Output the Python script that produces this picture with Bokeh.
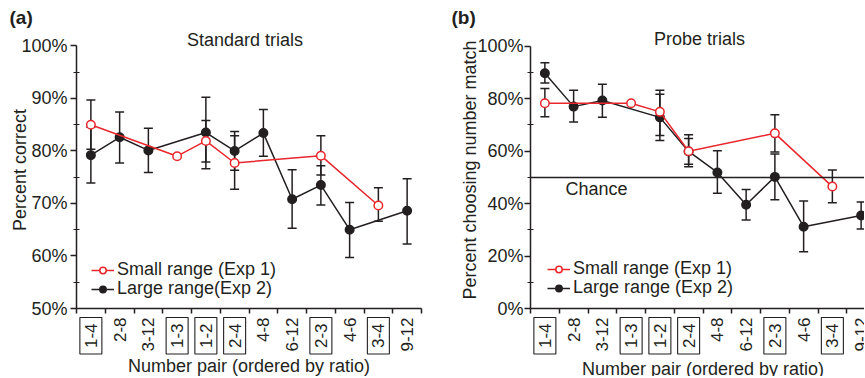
import math
from bokeh.plotting import figure
from bokeh.models import (ColumnDataSource, Whisker, TeeHead, Label, Span, Legend,
                          LegendItem, FixedTicker, PrintfTickFormatter, Range1d, Title)
from bokeh.core.properties import value
from bokeh.layouts import row, column
from bokeh.embed import file_html
from bokeh.resources import INLINE

# ---------------- data ----------------
pairs = ["1-4", "2-8", "3-12", "1-3", "1-2", "2-4", "4-8", "6-12", "2-3", "4-6", "3-4", "9-12"]
small_pairs = ["1-4", "1-3", "1-2", "2-4", "2-3", "3-4"]
large_pairs = ["1-4", "2-8", "3-12", "1-2", "2-4", "4-8", "6-12", "2-3", "4-6", "9-12"]

std_small = [85.0, 79.0, 81.9, 77.7, 79.1, 69.6]
std_small_lo = [80.3, None, 77.9, 72.7, 75.4, 66.6]
std_small_hi = [89.7, None, 85.8, 82.9, 82.9, 73.0]
std_large = [79.2, 82.6, 80.1, 83.5, 80.0, 83.4, 70.8, 73.5, 65.0, 68.6]
std_large_lo = [73.9, 77.7, 75.9, 76.6, 76.3, 79.0, 65.3, 69.7, 59.7, 62.3]
std_large_hi = [84.5, 87.4, 84.3, 90.2, 83.7, 87.9, 76.4, 77.2, 70.2, 74.7]

probe_small = [78.3, 78.3, 75.0, 60.0, 66.8, 46.5]
probe_small_lo = [73.1, None, 66.0, 55.0, 59.7, 40.3]
probe_small_hi = [83.9, None, 83.2, 66.3, 73.9, 52.8]
probe_large = [89.7, 77.0, 79.3, 72.9, 59.9, 51.9, 39.6, 50.2, 31.2, 35.5]
probe_large_lo = [86.0, 71.1, 72.9, 64.1, 54.1, 44.0, 33.8, 41.5, 21.6, 30.3]
probe_large_hi = [93.7, 83.2, 85.5, 81.7, 64.8, 60.2, 45.4, 58.9, 41.0, 40.6]
chance_level = 50

std_ticks = [50, 60, 70, 80, 90, 100]
std_minor = [55, 65, 75, 85, 95]
probe_ticks = [0, 20, 40, 60, 80, 100]
probe_minor = [10, 30, 50, 70, 90]

FONT = "Liberation Sans"
RED = "#e8262b"
BLACK = "#231f20"


def xpos(p):
    return pairs.index(p) + 0.5


def add_series(p, cats, vals, lo, hi, color, filled):
    xs = [xpos(c) for c in cats]
    src = ColumnDataSource(dict(x=xs, y=vals))
    wx = [xpos(c) for c, a in zip(cats, lo) if a is not None]
    wl = [a for a in lo if a is not None]
    wh = [b for b in hi if b is not None]
    wsrc = ColumnDataSource(dict(x=wx, lo=wl, hi=wh))
    w = Whisker(source=wsrc, base="x", lower="lo", upper="hi",
                line_color=BLACK, line_width=1.5, level="underlay",
                upper_head=TeeHead(size=9, line_color=BLACK, line_width=1.5),
                lower_head=TeeHead(size=9, line_color=BLACK, line_width=1.5))
    p.add_layout(w)
    ln = p.line("x", "y", source=src, line_color=color, line_width=1.5)
    sc = p.scatter("x", "y", source=src, marker="circle", size=8.5,
                   line_color=color, line_width=1.5,
                   fill_color=color if filled else "white")
    return [ln, sc]


def make_panel(letter, title, ylabel, small, slo, shi, large, llo, lhi,
               y_range, ticks, minor, width, x_end, border_left, border_right,
               geo, large_label, chance=None):
    xr = Range1d(0, x_end)
    p = figure(width=width, height=320, x_range=xr, y_range=Range1d(*y_range),
               output_backend="svg", toolbar_location=None,
               min_border_left=border_left, min_border_right=border_right,
               min_border_top=30, min_border_bottom=12)
    p.outline_line_color = None
    p.xgrid.visible = False
    p.ygrid.visible = False

    xa = p.xaxis[0]
    xa.ticker = FixedTicker(ticks=list(range(13)), minor_ticks=[])
    xa.major_label_overrides = {i: "" for i in range(13)}
    xa.major_label_text_font_size = "1px"
    xa.major_label_standoff = 0
    xa.major_tick_in = 0
    xa.major_tick_out = 5
    xa.minor_tick_in = 0
    xa.minor_tick_out = 0
    xa.axis_line_width = 1.5
    xa.major_tick_line_width = 1.5
    xa.axis_line_color = BLACK
    xa.major_tick_line_color = BLACK

    ya = p.yaxis[0]
    ya.bounds = (ticks[0], ticks[-1])
    ya.ticker = FixedTicker(ticks=ticks, minor_ticks=minor)
    ya.formatter = PrintfTickFormatter(format="%d%%")
    ya.major_tick_in = 0
    ya.major_tick_out = 6
    ya.minor_tick_in = 3
    ya.minor_tick_out = 3
    ya.axis_line_width = 1.5
    ya.major_tick_line_width = 1.5
    ya.minor_tick_line_width = 1.2
    ya.axis_line_color = BLACK
    ya.major_tick_line_color = BLACK
    ya.minor_tick_line_color = BLACK
    ya.major_label_text_font = FONT
    ya.major_label_text_font_size = "18px"
    ya.major_label_text_color = BLACK
    ya.major_label_standoff = geo["tick_standoff"]
    ya.axis_label = ylabel
    ya.axis_label_text_font = FONT
    ya.axis_label_text_font_size = "18px"
    ya.axis_label_text_font_style = "normal"
    ya.axis_label_text_color = BLACK
    ya.axis_label_standoff = geo["ylab_standoff"]

    p.add_layout(Title(text=letter, align="left", offset=geo["letter_offset"], standoff=8,
                       text_font=FONT, text_font_size="19px", text_font_style="bold",
                       text_color=BLACK), "above")

    if chance is not None:
        p.add_layout(Span(location=chance, dimension="width", line_color=BLACK, line_width=1.5))
        p.add_layout(Label(x=geo["chance_x"], y=geo["chance_y"], text="Chance",
                           text_font=FONT, text_font_size="18px", text_color=BLACK,
                           text_align="left", text_baseline="middle"))

    rl = add_series(p, large_pairs, large, llo, lhi, BLACK, True)
    rs = add_series(p, small_pairs, small, slo, shi, RED, False)

    for label, rends, loc in [("Small range (Exp 1)", rs, geo["leg_top"]),
                              (large_label, rl, geo["leg_bottom"])]:
        lg = Legend(items=[LegendItem(label=label, renderers=rends)],
                    location=loc, background_fill_alpha=0, border_line_color=None,
                    padding=0, spacing=0, margin=0, glyph_width=23, glyph_height=16,
                    label_height=16, label_standoff=3, label_text_font=FONT,
                    label_text_font_size="18px", label_text_color=BLACK)
        p.add_layout(lg)

    p.add_layout(Label(x=geo["title_x"], y=geo["title_y"], text=title, text_font=FONT,
                       text_font_size="18px", text_color=BLACK,
                       text_align="center", text_baseline="middle"))

    # ---- strip under the axis: category labels (boxed = small-range pairs) and x title
    lab = figure(width=width, height=65, x_range=xr, y_range=Range1d(-65, 0),
                 output_backend="svg", toolbar_location=None,
                 x_axis_location=None, y_axis_location=None,
                 min_border_left=border_left, min_border_right=border_right,
                 min_border_top=0, min_border_bottom=0, margin=(-9, 0, 0, 0))
    lab.outline_line_color = None
    lab.background_fill_alpha = 0
    lab.border_fill_alpha = 0
    lab.xgrid.visible = False
    lab.ygrid.visible = False
    plain = [c for c in pairs if c not in small_pairs]
    boxed = [c for c in pairs if c in small_pairs]
    common = dict(angle=math.pi / 2, text_align="right", text_baseline="middle",
                  text_font=value(FONT), text_font_size="17px", text_color=BLACK)
    lab.text(x=[xpos(c) for c in plain], y=[geo["cat_y"]] * len(plain), text=plain, **common)
    lab.text(x=[xpos(c) for c in boxed], y=[geo["cat_y"]] * len(boxed), text=boxed,
             border_line_color=BLACK, border_line_width=1.1, padding=(6, 5), **common)
    lab.add_layout(Label(x=geo["xlab_x"], y=geo["xlab_y"], text="Number pair (ordered by ratio)",
                         text_font=FONT, text_font_size="18px", text_color=BLACK,
                         text_align="center", text_baseline="middle"))
    return column(p, lab)


geo_a = dict(letter_offset=-67, title_x=5.86, title_y=101.15, tick_standoff=3,
             ylab_standoff=-12, xlab_x=6.0, xlab_y=-54, cat_y=-6,
             leg_top=(15, 28), leg_bottom=(15, 9))
geo_b = dict(letter_offset=-79, title_x=5.88, title_y=102.7, tick_standoff=1,
             ylab_standoff=-6, xlab_x=6.0, xlab_y=-57, cat_y=-6,
             leg_top=(17, 29), leg_bottom=(17, 10), chance_x=1.22, chance_y=45.7)

pa = make_panel("(a)", "Standard trials", "Percent correct",
                std_small, std_small_lo, std_small_hi, std_large, std_large_lo, std_large_hi,
                (50, 102.74), std_ticks, std_minor, 429, 12, 76, 8, geo_a,
                "Large range(Exp 2)")
pb = make_panel("(b)", "Probe trials", "Percent choosing number match",
                probe_small, probe_small_lo, probe_small_hi, probe_large, probe_large_lo,
                probe_large_hi, (0, 105.65), probe_ticks, probe_minor, 435, 334 / 28.75,
                101, 0, geo_b, "Large range (Exp 2)", chance=chance_level)

layout = row(pa, pb)
open("out.html", "w").write(file_html(layout, INLINE))
